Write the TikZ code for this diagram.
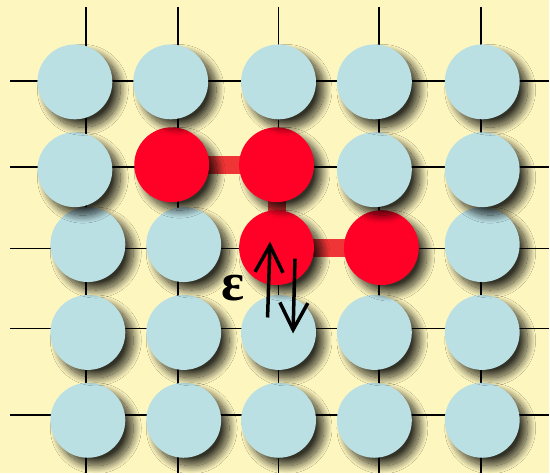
\documentclass[tikz,border=0pt]{standalone}
\usepackage{fontspec}
\setmainfont{Liberation Serif}
\usetikzlibrary{arrows.meta,shadows.blur}
\definecolor{Cream}{HTML}{FDF6BF}
\definecolor{Ice}{HTML}{BAE0E4}
\definecolor{Ruby}{HTML}{FF0026}
\definecolor{Bond}{HTML}{EF3535}
\tikzset{
  site/.style={circle, fill=#1, minimum size=75pt, inner sep=0pt,
    blur shadow={shadow xshift=8pt, shadow yshift=-8pt, shadow blur radius=8pt,
      shadow blur steps=20, shadow opacity=80}},
  site/.default=Ice,
  gridline/.style={draw=black, line width=1.8pt},
  bond/.style={draw=Bond, line width=18pt},
  flip/.style={-{Straight Barb[length=27pt,width=28pt]}, line width=3.5pt, draw=black}
}

\begin{document}
\begin{tikzpicture}[x=1pt,y=-1pt]
  \fill[Cream] (0,0) rectangle (550,474);

  % lattice lines
  \draw[gridline] (86,7) -- (86,474);
  \draw[gridline] (178,7) -- (178,474);
  \draw[gridline] (279,7) -- (279,474);
  \draw[gridline] (380,7) -- (380,474);
  \draw[gridline] (482,7) -- (482,474);
  \draw[gridline] (10,81) -- (550,81);
  \draw[gridline] (10,167) -- (550,167);
  \draw[gridline] (10,249) -- (550,249);
  \draw[gridline] (10,329) -- (550,329);
  \draw[gridline] (10,416) -- (550,416);

  % chain bonds
  \coordinate (p22) at (172,165);
  \coordinate (p23) at (277,165);
  \coordinate (p33) at (277,248);
  \coordinate (p34) at (382,248);
  \draw[bond] (p22) -- (p23);
  \draw[bond] (p23) -- (p33);
  \draw[bond] (p33) -- (p34);

  % bottom row first, so upper shadows fall on lower sites
  \node[site] (s51) at (88,421) {};
  \node[site] (s52) at (184,421) {};
  \node[site] (s53) at (279,421) {};
  \node[site] (s54) at (375,421) {};
  \node[site] (s55) at (483,421) {};

  \node[site] (s41) at (88,333) {};
  \node[site] (s42) at (184,333) {};
  \node[site] (s43) at (279,333) {};
  \node[site] (s44) at (375,333) {};
  \node[site] (s45) at (483,333) {};

  \node[site] (s31) at (88,245) {};
  \node[site] (s32) at (184,245) {};
  \node[site=Ruby] (s33) at (p33) {};
  \node[site=Ruby] (s34) at (p34) {};
  \node[site] (s35) at (483,245) {};

  \node[site] (s21) at (75,170) {};
  \node[site=Ruby] (s22) at (p22) {};
  \node[site=Ruby] (s23) at (p23) {};
  \node[site] (s24) at (375,170) {};
  \node[site] (s25) at (483,170) {};

  \node[site] (s11) at (75,82) {};
  \node[site] (s12) at (171,82) {};
  \node[site] (s13) at (279,82) {};
  \node[site] (s14) at (375,82) {};
  \node[site] (s15) at (483,82) {};

  % spin flip
  \coordinate (upA) at (268,318);
  \coordinate (upB) at (270.5,242);
  \coordinate (dnA) at (295.5,259);
  \coordinate (dnB) at (293.5,334);
  \draw[flip] (upA) -- (upB);
  \draw[flip] (dnA) -- (dnB);
  \node (eps) at (233,289) {\fontsize{54}{54}\selectfont\bfseries ε};
\end{tikzpicture}
\end{document}
